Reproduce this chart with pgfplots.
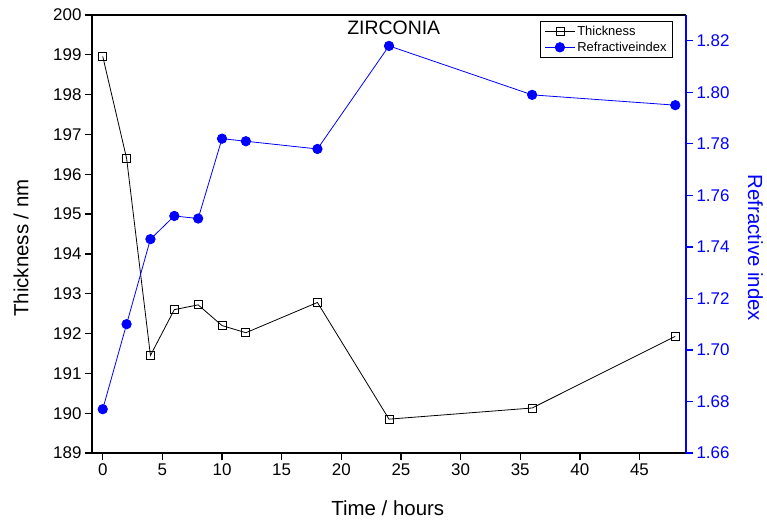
\documentclass[border=0pt]{standalone}
\usepackage{fontspec}
\setmainfont{Liberation Sans}
\usepackage{pgfplots}
\pgfplotsset{compat=1.18}
\definecolor{myblue}{RGB}{0,0,255}
\begin{document}
\begin{tikzpicture}[x=1bp,y=1bp]
\useasboundingbox (0,0) rectangle (767,524);
\pgfplotsset{
  common/.style={
    at={(92bp,71bp)}, anchor=south west, scale only axis,
    width=594bp, height=438bp,
    xmin=-0.9, xmax=48.9,
    /pgf/number format/assume math mode=true,
    tick label style={font=\fontsize{17}{20}\selectfont},
    label style={font=\fontsize{20.5}{24}\selectfont},
    axis line style={line width=1.3bp},
    major tick length=7bp,
    tick align=outside,
    every tick/.style={line width=1.3bp},
    minor tick num=0,
  }
}
\begin{axis}[common,
  ymin=189, ymax=200,
  axis x line*=bottom, axis y line*=left,
  xtick={0,5,...,45}, ytick={189,190,...,200},
  xlabel={Time / hours}, ylabel={Thickness / nm},
  xlabel style={at={(axis description cs:0.498,-0.1438)}, anchor=base},
  ylabel style={at={(axis description cs:-0.1069,0.468)}, anchor=base},
]
\addplot[black, line width=0.8bp, mark=square, mark size=4bp, mark options={fill=white, line width=0.8bp}]
coordinates {(0,198.96) (2,196.40) (4,191.45) (6,192.60) (8,192.72) (10,192.20) (12,192.02) (18,192.78) (24,189.85) (36,190.13) (48,191.93)};
\end{axis}
\begin{axis}[common,
  ymin=1.66, ymax=1.83,
  axis x line*=top, axis y line*=right,
  xmajorticks=false,
  ytick={1.66,1.68,1.70,1.72,1.74,1.76,1.78,1.80,1.82},
  yticklabel style={/pgf/number format/fixed, /pgf/number format/fixed zerofill, /pgf/number format/precision=2, text=myblue},
  y axis line style={myblue},
  ytick style={myblue},
  ylabel={Refractive index},
  ylabel style={at={(axis description cs:1.1044,0.468)}, anchor=base, rotate=180, text=myblue},
  legend style={at={(0.978,0.986)}, anchor=north east, draw=black, line width=0.8bp,
    font=\fontsize{13}{15}\selectfont, inner xsep=4bp, inner ysep=2.5bp, row sep=1bp},
  legend cell align=left,
  legend image code/.code={\draw[mark repeat=2,mark phase=2] plot coordinates {(0bp,0bp) (15bp,0bp) (30bp,0bp)};},
]
\addlegendimage{black, line width=0.8bp, mark=square, mark size=4bp, mark options={fill=white, line width=0.8bp}}
\addlegendentry{Thickness}
\addplot[myblue, line width=0.8bp, mark=*, mark size=4.7bp, mark options={fill=myblue}]
coordinates {(0,1.677) (2,1.710) (4,1.743) (6,1.752) (8,1.751) (10,1.782) (12,1.781) (18,1.778) (24,1.818) (36,1.799) (48,1.795)};
\addlegendentry{Refractiveindex}
\node[font=\fontsize{19.5}{22}\selectfont] at (rel axis cs:0.508,0.970) {ZIRCONIA};
\end{axis}
\end{tikzpicture}
\end{document}
